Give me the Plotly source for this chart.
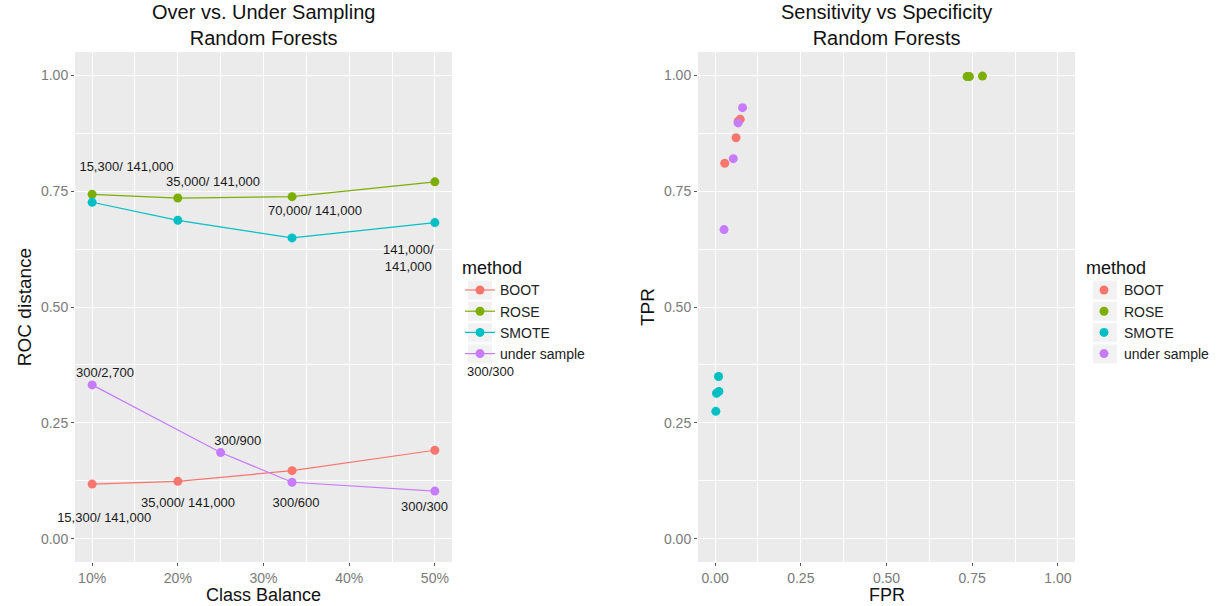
import plotly.graph_objects as go

# ---- data -------------------------------------------------------------
methods = ["BOOT", "ROSE", "SMOTE", "under sample"]
colors = ["#F8766D", "#7CAE00", "#00BFC4", "#C77CFF"]

# class balance (minority share) for each resampling method
balance_boot = [0.10, 0.20, 1 / 3, 0.50]
balance_rose = [0.10, 0.20, 1 / 3, 0.50]
balance_smote = [0.10, 0.20, 1 / 3, 0.50]
balance_under = [0.10, 0.25, 1 / 3, 0.50]

# ROC distance per method
roc_boot = [0.118, 0.124, 0.147, 0.191]
roc_rose = [0.743, 0.735, 0.738, 0.770]
roc_smote = [0.726, 0.687, 0.649, 0.682]
roc_under = [0.332, 0.186, 0.122, 0.103]

# false / true positive rates per method
fpr_boot = [0.067, 0.073, 0.061, 0.028]
tpr_boot = [0.900, 0.905, 0.865, 0.810]
fpr_rose = [0.742, 0.735, 0.738, 0.780]
tpr_rose = [0.997, 0.997, 0.997, 0.998]
fpr_smote = [0.002, 0.011, 0.004, 0.010]
tpr_smote = [0.275, 0.318, 0.314, 0.350]
fpr_under = [0.026, 0.053, 0.067, 0.080]
tpr_under = [0.667, 0.820, 0.897, 0.930]

# sample-size labels (minority / majority)
label_text = ["15,300/ 141,000", "35,000/ 141,000", "70,000/ 141,000", "141,000/<br>141,000",
              "15,300/ 141,000", "35,000/ 141,000",
              "300/2,700", "300/900", "300/600", "300/300", "300/300"]
label_x = [0.140, 0.241, 0.360, 0.469, 0.114, 0.212, 0.115, 0.270, 0.338, 0.488, 0.565]
label_y = [0.801, 0.769, 0.705, 0.603, 0.043, 0.075, 0.357, 0.209, 0.075, 0.066, 0.361]

balance = [balance_boot, balance_rose, balance_smote, balance_under]
roc = [roc_boot, roc_rose, roc_smote, roc_under]
fpr = [fpr_boot, fpr_rose, fpr_smote, fpr_under]
tpr = [tpr_boot, tpr_rose, tpr_smote, tpr_under]

FONT = "Liberation Sans, Arial, Helvetica, sans-serif"
W, H = 1225, 606
X1_RANGE = [0.08, 0.52]
Y_RANGE = [-0.05, 1.05]

fig = go.Figure()

for m, c, bx, ry in zip(methods, colors, balance, roc):
    fig.add_trace(go.Scatter(
        x=bx, y=ry, name=m, mode="lines+markers",
        line=dict(color=c, width=1.2), marker=dict(color=c, size=9),
        xaxis="x", yaxis="y", legend="legend", cliponaxis=False,
    ))

# labels inside the panel go on as text; ones past the axis range become
# domain-referenced annotations so they are not dropped
label_font = dict(family=FONT, size=13, color="#1a1a1a")
in_x, in_y, in_t = [], [], []
for t, lx, ly in zip(label_text, label_x, label_y):
    if X1_RANGE[0] <= lx <= X1_RANGE[1]:
        in_x.append(lx); in_y.append(ly); in_t.append(t)
    else:
        fig.add_annotation(
            x=(lx - X1_RANGE[0]) / (X1_RANGE[1] - X1_RANGE[0]), xref="x domain",
            y=(ly - Y_RANGE[0]) / (Y_RANGE[1] - Y_RANGE[0]), yref="y domain",
            text=t, showarrow=False, font=label_font,
            xanchor="center", yanchor="middle",
        )

fig.add_trace(go.Scatter(
    x=in_x, y=in_y, text=in_t, mode="text", textfont=label_font,
    showlegend=False, cliponaxis=False, hoverinfo="skip",
    xaxis="x", yaxis="y",
))

for m, c, fx, ty in zip(methods, colors, fpr, tpr):
    fig.add_trace(go.Scatter(
        x=fx, y=ty, name=m, mode="markers",
        marker=dict(color=c, size=9),
        xaxis="x2", yaxis="y2", legend="legend2", cliponaxis=False,
    ))

# panel geometry (pixels)
L1, R1 = 75, 452
L2, R2 = 698, 1075
TOP, BOT = 52, 562

axis_common = dict(
    showgrid=True, gridcolor="white", gridwidth=1.3,
    zeroline=False, showline=False,
    ticks="outside", ticklen=3, tickwidth=1, tickcolor="#555555",
    tickfont=dict(family=FONT, size=14, color="#7a7a7a"),
    title_font=dict(family=FONT, size=19, color="#111111"),
)
minor_grid = dict(showgrid=True, gridcolor="white", gridwidth=0.6, ticks="")
quarter = [0, 0.25, 0.5, 0.75, 1.0]
eighth = [0.125, 0.375, 0.625, 0.875]

legend_common = dict(
    xanchor="left", yanchor="top",
    title=dict(text="method", font=dict(family=FONT, size=18, color="#111111")),
    font=dict(family=FONT, size=14, color="#222222"),
    bgcolor="rgba(0,0,0,0)", tracegroupgap=0, itemwidth=30,
)

LEG_TOP = 251
fig.update_layout(
    width=W, height=H, autosize=False,
    margin=dict(l=0, r=0, t=0, b=0),
    paper_bgcolor="white", plot_bgcolor="#EBEBEB",
    font=dict(family=FONT, color="#111111"),
    xaxis=dict(domain=[L1 / W, R1 / W], range=X1_RANGE,
               tickvals=[0.1, 0.2, 0.3, 0.4, 0.5], tickformat=".0%",
               minor=dict(tickvals=[0.15, 0.25, 0.35, 0.45], **minor_grid),
               anchor="y", **axis_common),
    yaxis=dict(domain=[1 - BOT / H, 1 - TOP / H], range=Y_RANGE,
               tickvals=quarter, tickformat=".2f",
               minor=dict(tickvals=eighth, **minor_grid),
               title=dict(text="ROC distance", standoff=4), anchor="x", **axis_common),
    xaxis2=dict(domain=[L2 / W, R2 / W], range=Y_RANGE,
                tickvals=quarter, tickformat=".2f",
                minor=dict(tickvals=eighth, **minor_grid),
                anchor="y2", **axis_common),
    yaxis2=dict(domain=[1 - BOT / H, 1 - TOP / H], range=Y_RANGE,
                tickvals=quarter, tickformat=".2f",
                minor=dict(tickvals=eighth, **minor_grid),
                title=dict(text="TPR", standoff=4), anchor="x2", **axis_common),
    legend=dict(x=460 / W, y=1 - LEG_TOP / H, **legend_common),
    legend2=dict(x=1084 / W, y=1 - LEG_TOP / H, **legend_common),
    showlegend=True,
)

# x-axis titles sit flush with the bottom edge of the figure
for cx, t in [((L1 + R1) / 2, "Class Balance"), ((L2 + R2) / 2, "FPR")]:
    fig.add_annotation(x=cx / W, y=0, xref="paper", yref="paper",
                       xanchor="center", yanchor="bottom", showarrow=False,
                       text=t, font=dict(family=FONT, size=18, color="#111111"),
                       borderpad=0)

# light grey key backgrounds behind the legend symbols
for kx in (468, 1093):
    for i in range(len(methods)):
        cy = 290 + 21.3 * i
        fig.add_shape(type="rect", xref="paper", yref="paper", layer="below",
                      x0=kx / W, x1=(kx + 24) / W,
                      y0=1 - (cy + 9.5) / H, y1=1 - (cy - 9.5) / H,
                      fillcolor="#F2F2F2", line=dict(width=0))

# panel titles
for cx, t in [((L1 + R1) / 2, "Over vs. Under Sampling<br>Random Forests"),
              ((L2 + R2) / 2, "Sensitivity vs Specificity<br>Random Forests")]:
    fig.add_annotation(x=cx / W, y=1 - 25 / H, xref="paper", yref="paper",
                       xanchor="center", yanchor="middle", showarrow=False,
                       text=t, font=dict(family=FONT, size=20, color="#111111"))

fig.write_html("out.html")
